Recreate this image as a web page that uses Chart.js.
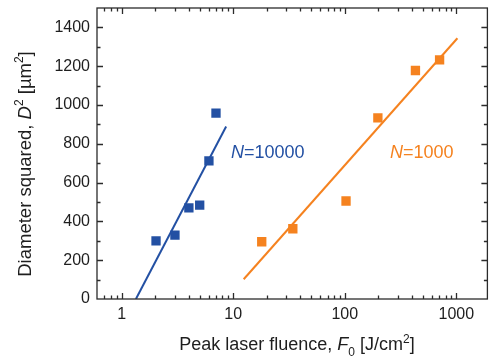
<!DOCTYPE html>
<html>
<head>
<meta charset="utf-8">
<script src="https://cdn.jsdelivr.net/npm/chart.js@4"></script>
<style>
  html, body { margin: 0; padding: 0; background: #fff; }
  #wrap { width: 494px; height: 361px; position: relative; }
</style>
</head>
<body>
<div id="wrap"><canvas id="chart"></canvas></div>
<script>
'use strict'

// measured points, N=10000 and N=1000
const fluence10000 = [2.03, 3.0, 4.0, 5.0, 6.05, 7.0]
const diam10000 = [300, 329, 470, 484, 712, 958]
const fluence1000 = [18.0, 34.2, 102.6, 198, 430, 708]
const diam1000 = [295, 362, 505, 934, 1178, 1233]

// fitted lines (end points)
const fitX10000 = [1.34, 8.63]
const fitY10000 = [0, 889]
const fitX1000 = [12.4, 1023]
const fitY1000 = [102, 1344]

const xTickValues = [1, 10, 100, 1000]
const yTickValues = [0, 200, 400, 600, 800, 1000, 1200, 1400]

const BLUE = '#2350a3'
const ORANGE = '#f5821f'
const FONT = "'Liberation Sans', Arial, sans-serif"

const toPoints = (xs, ys) => xs.map((x, i) => ({ x, y: ys[i] }))

// frame with inward ticks on all four sides, plus the text labels
const framePlugin = {
  id: 'frame',
  afterDraw(chart) {
    const { ctx, chartArea: a, scales: { x, y } } = chart
    ctx.save()
    ctx.strokeStyle = '#2b2b2b'
    ctx.lineWidth = 1.3
    ctx.strokeRect(a.left, a.top, a.right - a.left, a.bottom - a.top)

    ctx.beginPath()
    const xTick = (v, len) => {
      const px = Math.round(x.getPixelForValue(v)) + 0.5
      if (px < a.left + 1 || px > a.right - 1) return
      ctx.moveTo(px, a.bottom); ctx.lineTo(px, a.bottom - len)
      ctx.moveTo(px, a.top); ctx.lineTo(px, a.top + len)
    }
    const yTick = (v, len) => {
      const py = Math.round(y.getPixelForValue(v)) + 0.5
      if (py < a.top + 1 || py > a.bottom - 1) return
      ctx.moveTo(a.left, py); ctx.lineTo(a.left + len, py)
      ctx.moveTo(a.right, py); ctx.lineTo(a.right - len, py)
    }
    for (let d = 0.1; d <= 1000; d *= 10)
      for (let m = 1; m <= 9; m++) {
        const v = d * m
        if (v < x.min || v > x.max) continue
        xTick(v, m === 1 ? 6 : 3.5)
      }
    for (let v = 100; v < 1500; v += 200) yTick(v, 3.5)
    yTickValues.forEach(v => yTick(v, 6))
    ctx.stroke()

    // series labels
    const label = (parts, x0, y0, color, size) => {
      ctx.fillStyle = color
      ctx.textBaseline = 'alphabetic'
      ctx.textAlign = 'left'
      let cx = x0
      parts.forEach(([t, italic]) => {
        ctx.font = (italic ? 'italic ' : '') + size + 'px ' + FONT
        ctx.fillText(t, cx, y0)
        cx += ctx.measureText(t).width
      })
    }
    label([['N', true], ['=10000', false]], 231, 158, BLUE, 18)
    label([['N', true], ['=1000', false]], 390, 158, ORANGE, 18)

    // axis titles with italics, sub- and superscripts
    const drawRich = (parts, size, cx, by) => {
      const widths = parts.map(p => {
        ctx.font = (p.italic ? 'italic ' : '') + (p.size || size) + 'px ' + FONT
        return ctx.measureText(p.t).width
      })
      const total = widths.reduce((s, w) => s + w, 0)
      let px = cx - total / 2
      ctx.fillStyle = '#1e1e1e'
      ctx.textAlign = 'left'
      ctx.textBaseline = 'alphabetic'
      parts.forEach((p, i) => {
        ctx.font = (p.italic ? 'italic ' : '') + (p.size || size) + 'px ' + FONT
        ctx.fillText(p.t, px, by + (p.dy || 0))
        px += widths[i]
      })
    }

    drawRich([
      { t: 'Peak laser fluence, ' },
      { t: 'F', italic: true },
      { t: '0', size: 12, dy: 6 },
      { t: ' [J/cm' },
      { t: '2', size: 12, dy: -7 },
      { t: ']' }
    ], 18, 297, 350)

    ctx.translate(31, 164)
    ctx.rotate(-Math.PI / 2)
    drawRich([
      { t: 'Diameter squared, ' },
      { t: 'D', italic: true },
      { t: '2', size: 12, dy: -8 },
      { t: ' [\u00b5m' },
      { t: '2', size: 12, dy: -8 },
      { t: ']' }
    ], 18.5, 0, 0)
    ctx.restore()
  }
}

new Chart(document.getElementById('chart'), {
  type: 'scatter',
  data: {
    datasets: [
      {
        data: toPoints(fluence10000, diam10000),
        pointStyle: 'rect', pointRadius: 6.6, pointHoverRadius: 6.6,
        backgroundColor: BLUE, borderWidth: 0, order: 1
      },
      {
        data: toPoints(fluence1000, diam1000),
        pointStyle: 'rect', pointRadius: 6.6, pointHoverRadius: 6.6,
        backgroundColor: ORANGE, borderWidth: 0, order: 1
      },
      {
        data: toPoints(fitX10000, fitY10000),
        showLine: true, pointRadius: 0, borderColor: BLUE, borderWidth: 2, order: 2
      },
      {
        data: toPoints(fitX1000, fitY1000),
        showLine: true, pointRadius: 0, borderColor: ORANGE, borderWidth: 2, order: 2
      }
    ]
  },
  options: {
    responsive: true,
    maintainAspectRatio: false,
    animation: false,
    layout: { padding: { top: 8, right: 3, left: 0, bottom: 0 } },
    plugins: { legend: { display: false }, tooltip: { enabled: false } },
    scales: {
      x: {
        type: 'logarithmic',
        min: 0.6,
        max: 1900,
        grid: { display: false, drawTicks: false },
        border: { display: false },
        afterBuildTicks: s => { s.ticks = xTickValues.map(value => ({ value })) },
        afterFit: s => {
          s.height = 62
          s.paddingLeft = 0
          s.paddingRight = 0
        },
        ticks: {
          padding: 6,
          maxRotation: 0,
          autoSkip: false,
          color: '#1e1e1e',
          font: { family: FONT, size: 16 },
          callback: v => String(v)
        }
      },
      y: {
        min: 0,
        max: 1500,
        grid: { display: false, drawTicks: false },
        border: { display: false },
        afterBuildTicks: s => { s.ticks = yTickValues.map(value => ({ value })) },
        afterFit: s => {
          s.width = 97
          s.paddingTop = 0
          s.paddingBottom = 0
        },
        ticks: {
          padding: 7,
          color: '#1e1e1e',
          font: { family: FONT, size: 16 },
          callback: v => String(v)
        }
      }
    }
  },
  plugins: [framePlugin]
})
</script>
</body>
</html>
